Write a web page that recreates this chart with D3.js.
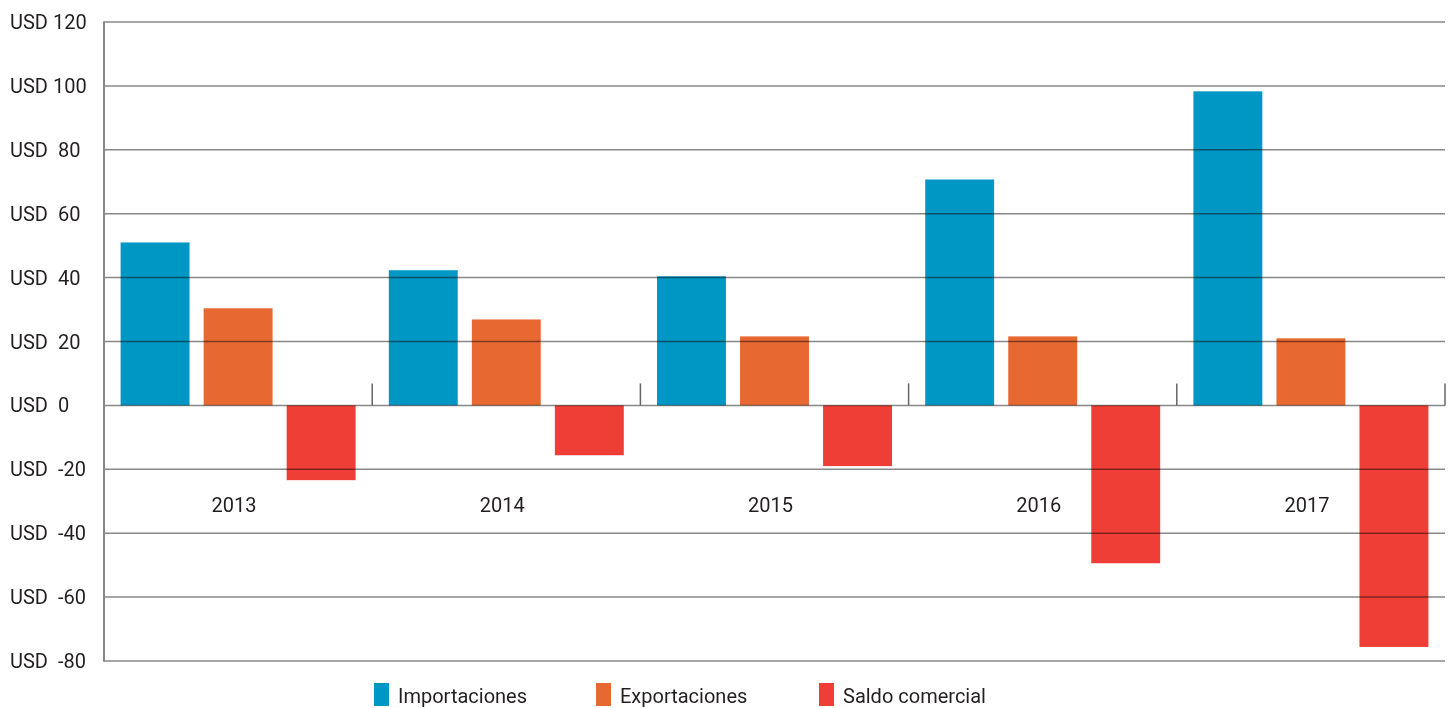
<!DOCTYPE html>
<html>
<head>
<meta charset="utf-8">
<script src="https://cdn.jsdelivr.net/npm/d3@7"></script>
<style>
  body { margin: 0; background: #fff; }
  svg { display: block; font-family: Roboto, "Liberation Sans", sans-serif; }
  .lbl { font-size: 20px; fill: #231f20; }
  .grid line { stroke: #888; stroke-width: 1.5; mix-blend-mode: multiply; }
</style>
</head>
<body>
<svg width="1454" height="708"></svg>
<script>
// years on the x axis, one group of three bars each
const years = ["2013", "2014", "2015", "2016", "2017"];
const series = ["Importaciones", "Exportaciones", "Saldo comercial"];
const colors = ["#0097c4", "#e86832", "#ef3e36"];

// billions of USD
const importaciones = [51.0, 42.3, 40.4, 70.7, 98.3];
const exportaciones = [30.4, 26.9, 21.6, 21.6, 21.0];
const saldo = [-23.4, -15.6, -19.0, -49.4, -75.6];

const yTicks = [120, 100, 80, 60, 40, 20, 0, -20, -40, -60, -80];

const values = [importaciones, exportaciones, saldo];

const svg = d3.select("svg");

// x0 picks the year, x1 places the bar inside the year
const x0 = d3.scaleBand().domain(years).range([104, 1445]);
const x1 = d3.scaleBand().domain(series)
    .range([0, x0.bandwidth()])
    .paddingInner(0.17)
    .paddingOuter(0.2);
const y = d3.scaleLinear().domain([-80, 120]).range([661, 22]);

// bars first, grid lines go over them
years.forEach((yr, i) => {
    svg.append("g")
        .selectAll("rect")
        .data(series)
        .join("rect")
        .attr("x", s => x0(yr) + x1(s))
        .attr("width", x1.bandwidth())
        .attr("y", (s, j) => y(Math.max(0, values[j][i])))
        .attr("height", (s, j) => Math.abs(y(values[j][i]) - y(0)))
        .attr("fill", (s, j) => colors[j]);
});

// horizontal grid
svg.append("g").attr("class", "grid")
    .selectAll("line")
    .data(yTicks)
    .join("line")
    .attr("x1", 104).attr("x2", 1445)
    .attr("y1", d => y(d)).attr("y2", d => y(d));

// left axis line
svg.append("line")
    .attr("x1", 104).attr("x2", 104)
    .attr("y1", y(120) - 0.75).attr("y2", y(-80) + 0.75)
    .attr("stroke", "#888").attr("stroke-width", 2);

// small ticks between the years, sitting on the zero line
const seps = years.slice(1).map(d => x0(d)).concat([x0.range()[1]]);
svg.append("g")
    .selectAll("line")
    .data(seps)
    .join("line")
    .attr("x1", d => d).attr("x2", d => d)
    .attr("y1", y(0) - 22).attr("y2", y(0))
    .attr("stroke", "#666").attr("stroke-width", 1.5);

// y labels: "USD" then the number
const yl = svg.append("g")
    .selectAll("text")
    .data(yTicks)
    .join("text")
    .attr("class", "lbl")
    .attr("y", d => y(d) + 7);
yl.append("tspan").attr("x", 10).text("USD");
yl.append("tspan")
    .attr("x", d => Math.abs(d) >= 100 ? 53 : 58)
    .text(d => d < 0 ? "-" + Math.abs(d) : d);

// year labels under the zero line
svg.append("g")
    .selectAll("text")
    .data(years)
    .join("text")
    .attr("class", "lbl")
    .attr("text-anchor", "middle")
    .attr("x", d => x0(d) + x0.bandwidth() / 2 - 4)
    .attr("y", 512)
    .text(d => d);

// legend
const legX = [374, 596, 819];
const leg = svg.append("g")
    .selectAll("g")
    .data(series)
    .join("g")
    .attr("transform", (d, i) => `translate(${legX[i]},683)`);
leg.append("rect")
    .attr("width", 15).attr("height", 23)
    .attr("fill", (d, i) => colors[i]);
leg.append("text")
    .attr("class", "lbl")
    .attr("x", 24).attr("y", 20)
    .text(d => d);
</script>
</body>
</html>
